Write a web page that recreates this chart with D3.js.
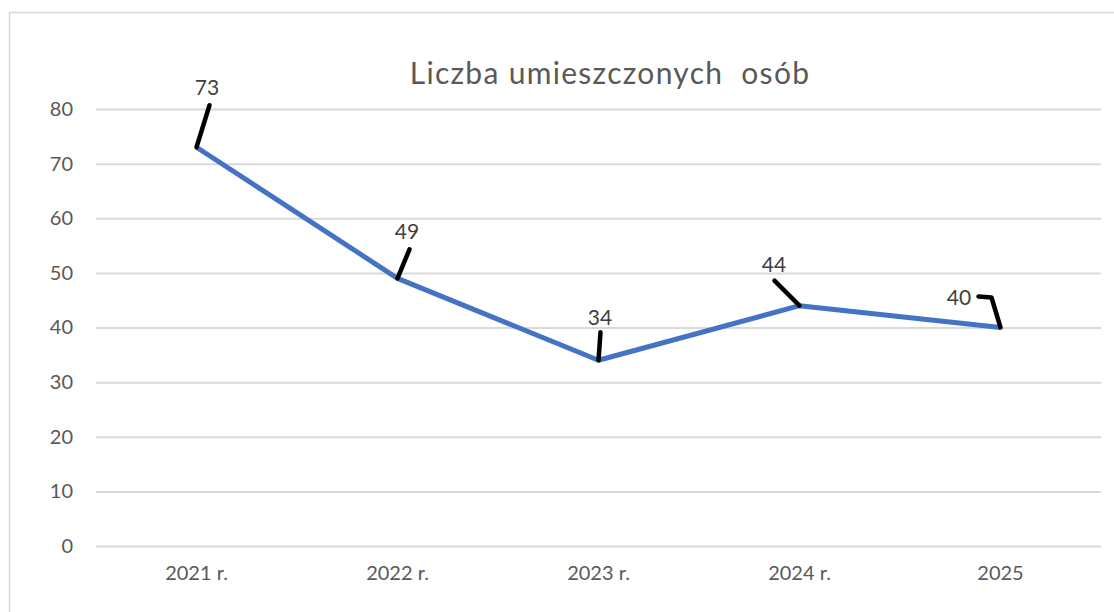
<!DOCTYPE html>
<html lang="pl">
<head>
    <meta charset="UTF-8">
    <title>Liczba umieszczonych osób</title>
    <script src="https://d3js.org/d3.v7.min.js"></script>
    <style>
        body { margin: 0; background: #fff; }
        text { font-family: Lato, "Open Sans", sans-serif; fill: #595959; }
    </style>
</head>
<body>
    <svg id="chart" width="1114" height="612"></svg>

    <script>
        // Data
        const categories = ["2021 r.", "2022 r.", "2023 r.", "2024 r.", "2025"];
        const values = [73, 49, 34, 44, 40];
        const yTicks = [0, 10, 20, 30, 40, 50, 60, 70, 80];

        // Data label placement (pixel offsets from the point), leader line drawn point -> elbow(s)
        const labelOffsets = [[10.5, -60], [9.5, -46.5], [1.5, -42.5], [-25.5, -41.5], [-41.5, -29.5]];
        const leaderPaths = [
            [[0, 0], [13, -42]],
            [[0, 0], [12, -29]],
            [[0, 0], [2, -28]],
            [[0, 0], [-25, -25]],
            [[0, 0], [-9, -30], [-22, -31]]
        ];

        const width = 1114;
        const height = 612;
        const margin = { left: 96, right: 13, top: 109, bottom: 66 };

        const svg = d3.select("#chart");

        // Chart frame
        svg.append("rect")
            .attr("x", 9.5)
            .attr("y", 12.5)
            .attr("width", 1200)
            .attr("height", 700)
            .attr("fill", "#fff")
            .attr("stroke", "#d9d9d9")
            .attr("stroke-width", 1.5);

        const x = d3.scaleBand()
            .domain(categories)
            .range([margin.left, width - margin.right]);

        const y = d3.scaleLinear()
            .domain([0, 80])
            .range([height - margin.bottom, margin.top]);

        // Gridlines + y labels
        const yAxis = svg.append("g")
            .attr("transform", "translate(" + margin.left + ",0)")
            .call(d3.axisLeft(y).tickValues(yTicks).tickSize(-(width - margin.left - margin.right)).tickPadding(23));
        yAxis.select(".domain").remove();
        yAxis.selectAll(".tick line").attr("stroke", "#d9d9d9").attr("stroke-width", 2);
        yAxis.selectAll(".tick text").style("font-size", "20px");

        // x labels
        const xAxis = svg.append("g")
            .attr("transform", "translate(0," + (height - margin.bottom) + ")")
            .call(d3.axisBottom(x).tickSize(0).tickPadding(20));
        xAxis.select(".domain").remove();
        xAxis.selectAll(".tick text").style("font-size", "20px");

        // Title
        svg.append("text")
            .attr("x", 610)
            .attr("y", 84)
            .attr("text-anchor", "middle")
            .style("font-size", "30px")
            .style("letter-spacing", "1.3px")
            .style("white-space", "pre")
            .text("Liczba umieszczonych  osób");

        const px = (d, i) => x(categories[i]) + x.bandwidth() / 2;
        const py = d => y(d);

        // Line
        const line = d3.line()
            .x((d, i) => px(d, i))
            .y(d => py(d));

        svg.append("path")
            .datum(values)
            .attr("fill", "none")
            .attr("stroke", "#4472c4")
            .attr("stroke-width", 5)
            .attr("stroke-linejoin", "round")
            .attr("d", line);

        // Leader lines
        svg.selectAll(".leader")
            .data(values)
            .enter().append("path")
            .attr("class", "leader")
            .attr("fill", "none")
            .attr("stroke", "#000")
            .attr("stroke-width", 4.5)
            .attr("stroke-linecap", "round")
            .attr("stroke-linejoin", "round")
            .attr("d", (d, i) => d3.line()(leaderPaths[i].map(p => [px(d, i) + p[0], py(d) + p[1]])));

        // Data labels
        svg.selectAll(".dlabel")
            .data(values)
            .enter().append("text")
            .attr("class", "dlabel")
            .attr("x", (d, i) => px(d, i) + labelOffsets[i][0])
            .attr("y", (d, i) => py(d) + labelOffsets[i][1])
            .attr("text-anchor", "middle")
            .attr("dy", "0.35em")
            .style("font-size", "21px")
            .style("fill", "#404040")
            .text(d => d);
    </script>
</body>
</html>
